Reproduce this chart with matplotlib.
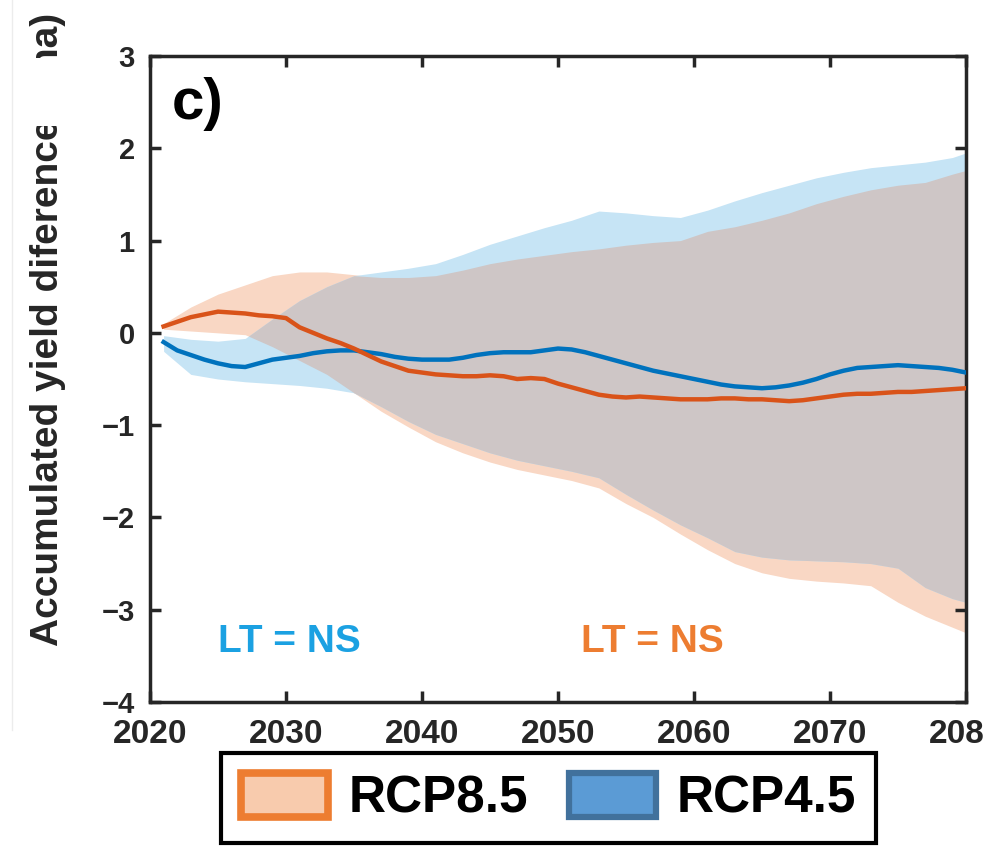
import matplotlib
matplotlib.use("Agg")
import matplotlib.pyplot as plt
import numpy as np
from matplotlib.patches import Patch, Rectangle
from matplotlib.lines import Line2D

plt.rcParams['font.family'] = ['Liberation Sans', 'DejaVu Sans']
plt.rcParams['font.weight'] = 'bold'

# ---- ensemble mean of accumulated yield difference (t/ha), yearly ----
years = np.arange(2021, 2081)
rcp85_mean = [0.07, 0.12, 0.17, 0.20, 0.23, 0.22, 0.21, 0.19, 0.18, 0.16,
              0.06, 0.00, -0.06, -0.11, -0.17, -0.24, -0.31, -0.36, -0.41, -0.43,
              -0.45, -0.46, -0.47, -0.47, -0.46, -0.47, -0.50, -0.49, -0.50, -0.55,
              -0.59, -0.63, -0.67, -0.69, -0.70, -0.69, -0.70, -0.71, -0.72, -0.72,
              -0.72, -0.71, -0.71, -0.72, -0.72, -0.73, -0.74, -0.73, -0.71, -0.69,
              -0.67, -0.66, -0.66, -0.65, -0.64, -0.64, -0.63, -0.62, -0.61, -0.60]
rcp45_mean = [-0.10, -0.19, -0.24, -0.29, -0.33, -0.36, -0.37, -0.33, -0.29, -0.27,
              -0.25, -0.22, -0.20, -0.19, -0.19, -0.21, -0.23, -0.26, -0.28, -0.29,
              -0.29, -0.29, -0.27, -0.24, -0.22, -0.21, -0.21, -0.21, -0.19, -0.17,
              -0.18, -0.21, -0.25, -0.29, -0.33, -0.37, -0.41, -0.44, -0.47, -0.50,
              -0.53, -0.56, -0.58, -0.59, -0.60, -0.59, -0.57, -0.54, -0.50, -0.45,
              -0.41, -0.38, -0.37, -0.36, -0.35, -0.36, -0.37, -0.38, -0.40, -0.43]

# ---- ensemble spread (lower / upper bounds) ----
band_years = [2021, 2023, 2025, 2027, 2029, 2031, 2033, 2035, 2037, 2039,
              2041, 2043, 2045, 2047, 2049, 2051, 2053, 2055, 2057, 2059,
              2061, 2063, 2065, 2067, 2069, 2071, 2073, 2075, 2077, 2079, 2080]
rcp85_hi = [0.10, 0.28, 0.42, 0.52, 0.62, 0.66, 0.66, 0.63, 0.60, 0.60,
            0.62, 0.68, 0.75, 0.80, 0.84, 0.88, 0.91, 0.95, 0.98, 1.00,
            1.10, 1.15, 1.22, 1.30, 1.40, 1.48, 1.55, 1.60, 1.63, 1.72, 1.76]
rcp85_lo = [0.04, 0.02, 0.00, -0.02, -0.15, -0.30, -0.45, -0.65, -0.85, -1.02,
            -1.18, -1.30, -1.40, -1.48, -1.54, -1.60, -1.68, -1.85, -2.00, -2.18,
            -2.35, -2.50, -2.60, -2.66, -2.69, -2.71, -2.74, -2.92, -3.07, -3.19, -3.25]
rcp45_hi = [-0.03, -0.07, -0.09, -0.06, 0.15, 0.35, 0.50, 0.62, 0.66, 0.70,
            0.75, 0.85, 0.96, 1.05, 1.14, 1.22, 1.32, 1.30, 1.27, 1.25,
            1.33, 1.43, 1.52, 1.60, 1.68, 1.74, 1.79, 1.82, 1.85, 1.90, 1.95]
rcp45_lo = [-0.20, -0.45, -0.50, -0.53, -0.55, -0.57, -0.60, -0.65, -0.80, -0.96,
            -1.10, -1.20, -1.30, -1.38, -1.44, -1.50, -1.57, -1.75, -1.92, -2.08,
            -2.22, -2.37, -2.43, -2.46, -2.47, -2.48, -2.50, -2.55, -2.76, -2.88, -2.92]

x_ticks = [2020, 2030, 2040, 2050, 2060, 2070, 2080]
y_ticks = [-4, -3, -2, -1, 0, 1, 2, 3]
legend_labels = ['RCP8.5', 'RCP4.5']

ORANGE_LINE = '#D95319'
BLUE_LINE = '#0072BD'
ORANGE_BAND = '#F9D7C4'
BLUE_BAND = '#C6E4F5'
OVERLAP = '#CEC6C6'
AXIS_COLOR = '#262626'

fig = plt.figure(figsize=(9.83, 8.46), dpi=100)
ax = fig.add_axes([0.1526, 0.1702, 0.8301, 0.7636])

# shaded spreads; the region covered by both is drawn in its own tone
ax.fill_between(band_years, rcp85_lo, rcp85_hi, color=ORANGE_BAND, lw=0, zorder=1)
ax.fill_between(band_years, rcp45_lo, rcp45_hi, color=BLUE_BAND, lw=0, zorder=1)
both_lo = np.maximum(rcp85_lo, rcp45_lo)
both_hi = np.minimum(rcp85_hi, rcp45_hi)
ax.fill_between(band_years, both_lo, both_hi, where=both_hi > both_lo,
                interpolate=True, color=OVERLAP, lw=0, zorder=2)

ax.plot(years, rcp45_mean, color=BLUE_LINE, lw=3.2, zorder=3)
ax.plot(years, rcp85_mean, color=ORANGE_LINE, lw=3.2, zorder=4)

ax.set_xlim(2020, 2080)
ax.set_ylim(-4, 3)
ax.set_xticks(x_ticks)
ax.set_yticks(y_ticks)
ax.tick_params(direction='in', length=8, width=2.5, top=True, right=True,
               colors=AXIS_COLOR)
ax.tick_params(axis='x', labelsize=24, pad=12)
ax.tick_params(axis='y', labelsize=21, pad=11)
for lab in ax.get_xticklabels() + ax.get_yticklabels():
    lab.set_fontweight('bold')
for sp in ax.spines.values():
    sp.set_linewidth(2.5)
    sp.set_color(AXIS_COLOR)

ax.text(2025.0, -3.35, 'LT = NS', color='#1BA1E2', fontsize=28,
        fontweight='bold', va='center', ha='left')
ax.text(2051.7, -3.35, 'LT = NS', color='#ED7D31', fontsize=28,
        fontweight='bold', va='center', ha='left')

fig.text(172 / 983, 1 - 77 / 846, 'c)', fontsize=42, fontweight='bold',
         va='top', ha='left', color='black')

fig.text(48 / 983, 1 - 329.5 / 846, 'Accumulated yield diference (t/ha)',
         rotation=90, fontsize=28, fontweight='bold', ha='center', va='center',
         color=AXIS_COLOR)
fig.add_artist(Rectangle((18 / 983, 1 - 126 / 846), 62 / 983, 68 / 846,
                         transform=fig.transFigure, facecolor='white',
                         edgecolor='none', zorder=10))
fig.add_artist(Line2D([12 / 983, 12 / 983], [1 - 730 / 846, 1],
                      transform=fig.transFigure, color='#ECECEC', lw=1))

handles = [Patch(facecolor='#F8CBAD', edgecolor='#ED7D31', linewidth=5.5),
           Patch(facecolor='#5B9BD5', edgecolor='#41719C', linewidth=4.5)]
leg = fig.legend(handles, legend_labels, loc='center',
                 bbox_to_anchor=(548.5 / 983, 1 - 798 / 846), ncol=2,
                 fontsize=37, handlelength=1.7, handleheight=0.95,
                 handletextpad=0.4, columnspacing=0.8, borderpad=0.38,
                 fancybox=False, framealpha=1, edgecolor='black')
leg.get_frame().set_linewidth(3)
for t in leg.get_texts():
    t.set_fontweight('bold')

fig.savefig('out.png', dpi=100)
